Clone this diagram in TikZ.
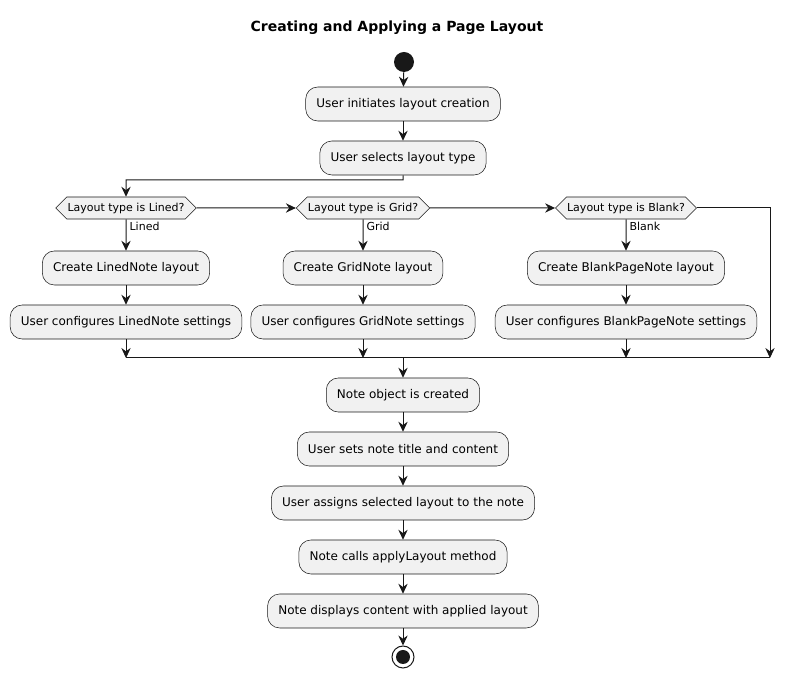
\documentclass[tikz,border=0pt]{standalone}
\usepackage{fontspec}
\setmainfont{DejaVu Sans}
\usetikzlibrary{positioning,shapes.symbols,arrows.meta}
\definecolor{boxfill}{HTML}{F1F1F1}
\definecolor{inkline}{HTML}{181818}

\begin{document}
\begin{tikzpicture}[
        x=0.75pt, y=-0.75pt,
        action/.style={draw=inkline, fill=boxfill, rounded corners=9pt, minimum height=25.5pt, inner xsep=8pt, font=\fontsize{9}{11}\selectfont, line width=0.4pt},
        choice/.style={draw=inkline, fill=boxfill, signal, signal to=west and east, minimum height=16.5pt, inner xsep=0.5pt, inner ysep=1pt, font=\fontsize{8.25}{10}\selectfont, line width=0.4pt}, % hexagon for the tests
        guard/.style={inner sep=0pt, font=\fontsize{8.25}{10}\selectfont},
        flow/.style={draw=inkline, line width=0.75pt, -{Stealth[length=7.5pt,width=7pt,inset=2.5pt]}},
        link/.style={draw=inkline, line width=0.75pt}
    ]
    \useasboundingbox (0,0) rectangle (794,680);
    \node[font=\bfseries\fontsize{10.5}{12}\selectfont] (title) at (397,28) {Creating and Applying a Page Layout};
    \node[circle, fill=inkline, minimum size=15pt, inner sep=0pt] (start) at (404,62) {};
    \node[action] (init) at (403,104) {User initiates layout creation};
    \node[action] (select) at (403,158) {User selects layout type};

    % the three tests
    \node[choice] (lined) at (126,208) {Layout type is Lined?};
    \node[choice] (grid) at (363,208) {Layout type is Grid?};
    \node[choice] (blank) at (626,208) {Layout type is Blank?};
    \node[guard, below right=2pt and 2.5pt of lined.south] {Lined};
    \node[guard, below right=2pt and 2.5pt of grid.south] {Grid};
    \node[guard, below right=2pt and 2.5pt of blank.south] {Blank};

    \node[action] (mklined) at (126,268) {Create LinedNote layout};
    \node[action] (cfglined) at (126,322) {User configures LinedNote settings};
    \node[action] (mkgrid) at (363,268) {Create GridNote layout};
    \node[action] (cfggrid) at (363,322) {User configures GridNote settings};
    \node[action] (mkblank) at (626,268) {Create BlankPageNote layout};
    \node[action] (cfgblank) at (626,322) {User configures BlankPageNote settings};

    \node[action] (created) at (403,395) {Note object is created};
    \node[action] (content) at (403,449) {User sets note title and content};
    \node[action] (assign) at (403,503) {User assigns selected layout to the note};
    \node[action] (apply) at (403,557) {Note calls applyLayout method};
    \node[action] (display) at (403,611) {Note displays content with applied layout};
    \node[circle, draw=inkline, fill=white, line width=0.75pt, minimum size=16.5pt, inner sep=0pt] (stop) at (403,657) {};
    \node[circle, fill=inkline, minimum size=10.5pt, inner sep=0pt] at (stop) {};

    \coordinate (split) at (126,180);
    \coordinate (mergeL) at (126,358);
    \coordinate (mergeR) at (770,358);
    \coordinate (merge) at (403,358);

    \draw[flow] (start) -- (init);
    \draw[flow] (init) -- (select);
    \draw[flow] (select.south) |- (split) -- (lined);
    \draw[flow] (lined) -- (grid);
    \draw[flow] (grid) -- (blank);
    \draw[flow] (blank.east) -| (mergeR);
    \draw[flow] (lined) -- (mklined);
    \draw[flow] (mklined) -- (cfglined);
    \draw[flow] (grid) -- (mkgrid);
    \draw[flow] (mkgrid) -- (cfggrid);
    \draw[flow] (blank) -- (mkblank);
    \draw[flow] (mkblank) -- (cfgblank);
    \draw[flow] (cfglined) -- (mergeL);
    \draw[flow] (cfggrid) -- (cfggrid |- mergeL);
    \draw[flow] (cfgblank) -- (cfgblank |- mergeL);
    \draw[link] (mergeL) -- (mergeR);
    \draw[flow] (merge) -- (created);
    \draw[flow] (created) -- (content);
    \draw[flow] (content) -- (assign);
    \draw[flow] (assign) -- (apply);
    \draw[flow] (apply) -- (display);
    \draw[flow] (display) -- (stop);
\end{tikzpicture}
\end{document}
